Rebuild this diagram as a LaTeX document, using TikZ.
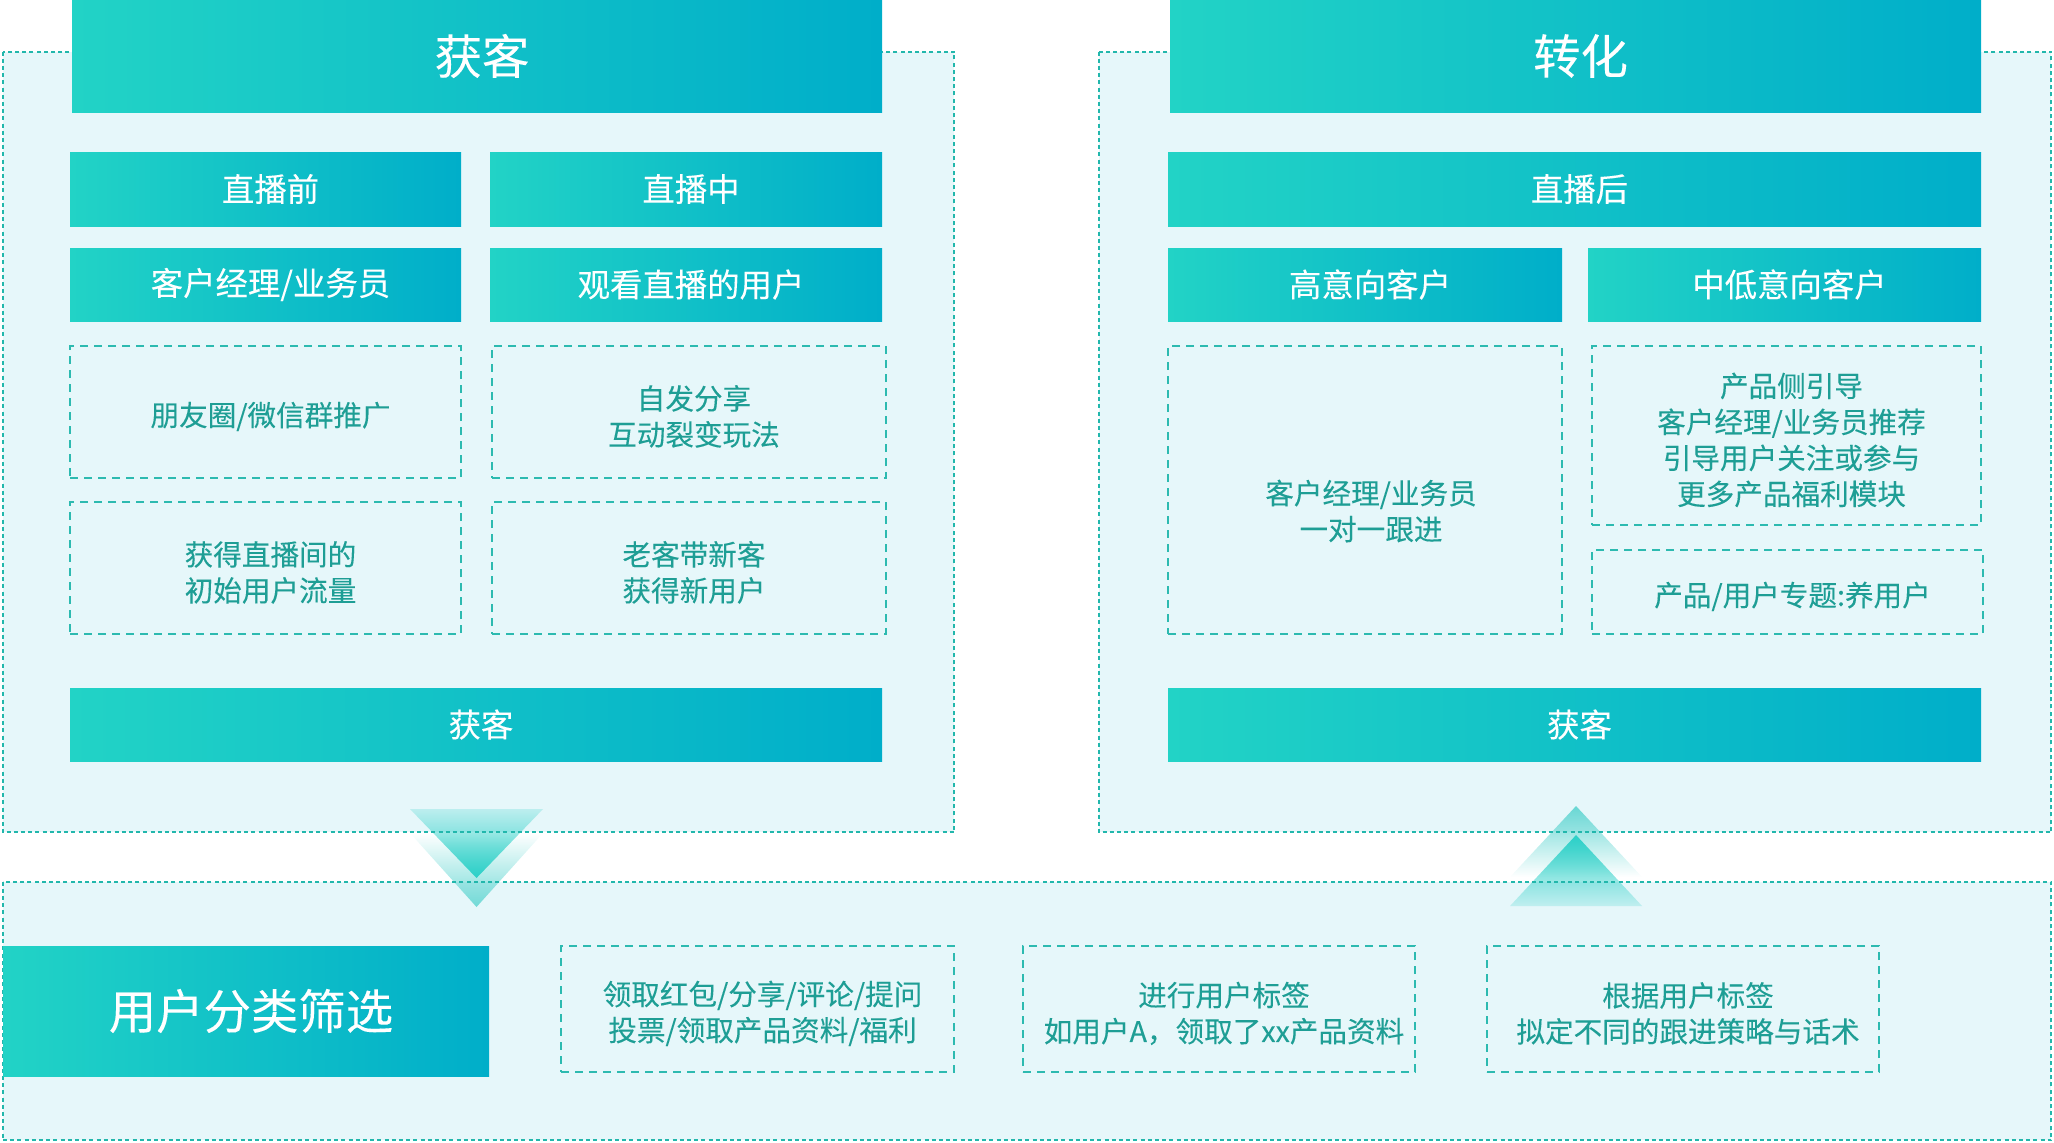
\documentclass[tikz,border=0pt]{standalone}
\usepackage{fontspec}
\setmainfont{Noto Sans CJK SC}[UprightFeatures={FakeBold=0.12}]
\usetikzlibrary{fit,fadings}
\definecolor{gA}{HTML}{22D3C6}
\definecolor{gB}{HTML}{00AEC9}
\definecolor{pfill}{HTML}{E6F7FA}
\definecolor{dotcol}{HTML}{22B7AC}
\definecolor{dcol}{HTML}{2DBAB0}
\definecolor{tcol}{HTML}{1E9E95}
\definecolor{triA}{HTML}{2BD0C8}
\definecolor{triB}{HTML}{62D6D2}
\tikzfading[name=fadeA, top color=transparent!78, bottom color=transparent!0]
\tikzfading[name=fadeB, top color=transparent!100, bottom color=transparent!12]
\tikzfading[name=fadeC, top color=transparent!5, bottom color=transparent!100]
\tikzfading[name=fadeD, top color=transparent!0, bottom color=transparent!80]
\begin{document}
\begin{tikzpicture}[x=0.5pt,y=-0.5pt,
  panel/.style={fill=pfill, inner sep=0pt, draw=none},
  pborder/.style={draw=dotcol, line width=1pt, dash pattern=on 2pt off 1.6pt},
  sz/.style 2 args={minimum width=#1, text width=#1, minimum height=#2},
  hdr/.style={inner sep=0pt, outer sep=0pt, left color=gA, right color=gB, draw=none, text=white,
    font=\fontsize{16.2}{19}\selectfont,
    execute at begin node={\centering\leftskip=5pt plus 1fil\relax}},
  titlebox/.style={hdr, font=\fontsize{23.7}{28}\selectfont},
  bigbox/.style={hdr, font=\fontsize{23.7}{28}\selectfont},
  dbox/.style={inner sep=0pt, outer sep=0pt, draw=dcol, line width=0.85pt, dash pattern=on 4pt off 3pt,
    text=tcol, font=\fontsize{14.3}{18}\selectfont,
    execute at begin node={\vskip-1.5pt\centering\leftskip=5pt plus 1fil\relax}},
  dtext/.style={text=tcol, align=center, font=\fontsize{14.3}{18}\selectfont, inner sep=0pt}
]
\useasboundingbox (0,0) rectangle (2054,1142);

% panel fills
\node[panel, fit={(3,52) (954,832)}] (lp) {};
\node[panel, fit={(1099,52) (2051,832)}] (rp) {};
\node[panel, fit={(3,882) (2051,1140)}] (bp) {};

% triangles (down)
\fill[triB, path fading=fadeB] (410,833) -- (543,833) -- (476.5,907) -- cycle;
\fill[triA, path fading=fadeA] (410,809) -- (543,809) -- (476.5,878) -- cycle;
% triangles (up)
\fill[triB, path fading=fadeC] (1576,806) -- (1642,877) -- (1510,877) -- cycle;
\fill[triA, path fading=fadeD] (1576,835) -- (1642,906) -- (1510,906) -- cycle;

% panel borders
\draw[pborder] (lp.north west) rectangle (lp.south east);
\draw[pborder] (rp.north west) rectangle (rp.south east);
\draw[pborder] (bp.north west) rectangle (bp.south east);

% left panel
\node[titlebox, sz={405pt}{56pt}] (lt) at (477,56) {获客};
\node[hdr, sz={195.5pt}{37pt}] (l1a) at (265.5,189) {直播前};
\node[hdr, sz={196pt}{37pt}] (l1b) at (686,189) {直播中};
\node[hdr, sz={195.5pt}{36.5pt}] (l2a) at (265.5,284.5) {客户经理/业务员};
\node[hdr, sz={196pt}{36.5pt}] (l2b) at (686,284.5) {观看直播的用户};
\node[dbox, sz={195.5pt}{66pt}] (l3a) at (265.5,412) {朋友圈/微信群推广};
\node[dbox, sz={197pt}{66pt}] (l3b) at (689,412) {自发分享\\互动裂变玩法};
\node[dbox, sz={195.5pt}{66pt}] (l4a) at (265.5,568) {获得直播间的\\初始用户流量};
\node[dbox, sz={197pt}{66pt}] (l4b) at (689,568) {老客带新客\\获得新用户};
\node[hdr, sz={406pt}{36.5pt}] (lbar) at (476,724.5) {获客};

% right panel
\node[titlebox, sz={405.5pt}{56pt}] (rt) at (1575.5,56) {转化};
\node[hdr, sz={406.5pt}{37pt}] (r1) at (1574.5,189) {直播后};
\node[hdr, sz={197pt}{36.5pt}] (r2a) at (1365,284.5) {高意向客户};
\node[hdr, sz={196.5pt}{36.5pt}] (r2b) at (1784.5,284.5) {中低意向客户};
\node[dbox, sz={197pt}{144pt}] (r3a) at (1365,490) {};
\node[dtext] (r3at) at (1371,511) {客户经理/业务员\\一对一跟进};
\node[dbox, sz={194.5pt}{89.5pt}] (r3b) at (1786.5,435.5) {产品侧引导\\客户经理/业务员推荐\\引导用户关注或参与\\更多产品福利模块};
\node[dbox, sz={195.5pt}{42pt}] (r4b) at (1787.5,592) {产品/用户专题:养用户};
\node[hdr, sz={406.5pt}{36.5pt}] (rbar) at (1574.5,724.5) {获客};

% bottom panel
\node[bigbox, sz={243pt}{65pt}] (bt) at (246,1011) {用户分类筛选};
\node[dbox, sz={196.5pt}{63pt}] (b1) at (757.5,1009) {领取红包/分享/评论/提问\\投票/领取产品资料/福利};
\node[dbox, sz={196pt}{63pt}] (b2) at (1219,1009) {进行用户标签\\如用户A，领取了xx产品资料};
\node[dbox, sz={196pt}{63pt}] (b3) at (1683,1009) {根据用户标签\\拟定不同的跟进策略与话术};
\end{tikzpicture}
\end{document}
